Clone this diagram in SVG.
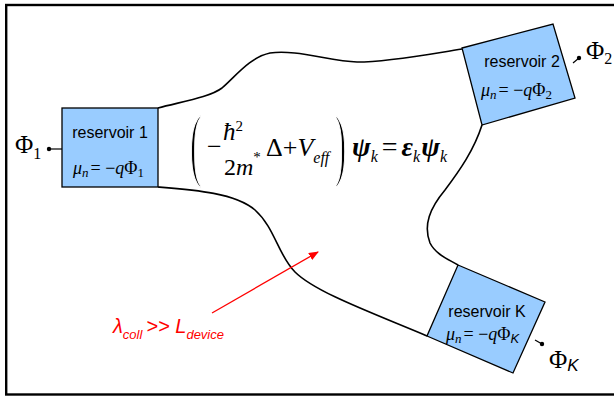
<svg xmlns="http://www.w3.org/2000/svg" width="614" height="397" viewBox="0 0 614 397">
<style>
.res{fill:#99CCFF;stroke:#000;stroke-width:1.3}
.wall{fill:none;stroke:#000;stroke-width:1.6}
.lbl{font-family:"Liberation Sans",Arial,sans-serif;font-size:16px;fill:#000}
.mu{font-family:"Liberation Serif","Times New Roman",serif;fill:#000}
.it{font-style:italic}
.phi{font-family:"Liberation Serif","Times New Roman",serif;fill:#000}
.eq{font-family:"Liberation Serif","Times New Roman",serif;fill:#000}
.paren{font-family:"Liberation Serif","Times New Roman",serif;fill:#000;stroke:#fff;stroke-width:2}
.red{font-family:"Liberation Sans",Arial,sans-serif;font-style:italic;fill:#FF0000}
.lead{stroke:#000;stroke-width:1.2}
</style>
<defs>
<marker id="ah" markerWidth="10" markerHeight="8" refX="9" refY="4" orient="auto" markerUnits="userSpaceOnUse">
<path d="M0,0 L10,4 L0,8 z" fill="#FF0000"/>
</marker>
</defs>
<rect x="6.2" y="5" width="640" height="389.5" fill="#fff" stroke="#000" stroke-width="2.4"/>

<g id="connectors">
<path class="wall" d="M158,108 C185,101 210,97 222,88 C235,77 250,57 270,53 C295,49 330,61 357,62 C390,62 430,54 462,49"/>
<path class="wall" d="M158,187 C195,190 235,193 255,210 C275,228 278,255 295,272 C315,292 370,312 427,336"/>
<path class="wall" d="M482,125 C474,150 460,170 445,190 C430,208 423,225 430,243 C436,255 450,260 458,265"/>
<line x1="212" y1="313" x2="318" y2="252" stroke="#FF0000" stroke-width="1.3" marker-end="url(#ah)"/>
</g>

<g id="reservoir1">
<rect class="res" x="62" y="108" width="96" height="79"/>
<text class="lbl" x="110" y="138" text-anchor="middle">reservoir 1</text>
<text class="mu" x="73" y="174" font-size="18"><tspan class="it">μ</tspan><tspan class="it" font-size="13" dy="3">n</tspan><tspan dy="-3" dx="2">= −</tspan><tspan class="it">q</tspan><tspan>Φ</tspan><tspan font-size="13" dy="3">1</tspan></text>
<line class="lead" x1="49" y1="149" x2="62" y2="149"/>
<circle cx="49" cy="149" r="2.2"/>
<text class="phi" x="15" y="153" font-size="25">Φ<tspan font-size="16" dy="6">1</tspan></text>
</g>

<g id="reservoir2">
<polygon class="res" points="462,48 553,24 575,98 482,125"/>
<text class="lbl" x="522" y="67" text-anchor="middle">reservoir 2</text>
<text class="mu" x="481" y="96" font-size="18"><tspan class="it">μ</tspan><tspan class="it" font-size="13" dy="3">n</tspan><tspan dy="-3" dx="2">= −</tspan><tspan class="it">q</tspan><tspan>Φ</tspan><tspan font-size="13" dy="3">2</tspan></text>
<line class="lead" x1="573" y1="63" x2="579" y2="58"/>
<circle cx="579" cy="58" r="2.2"/>
<text class="phi" x="586" y="59" font-size="25">Φ<tspan font-size="16" dy="5">2</tspan></text>
</g>

<g id="reservoirK">
<polygon class="res" points="458,265 545,302 513,373 427,336"/>
<text class="lbl" x="487" y="317" text-anchor="middle">reservoir K</text>
<text class="mu" x="446" y="340" font-size="18"><tspan class="it">μ</tspan><tspan class="it" font-size="13" dy="3">n</tspan><tspan dy="-3" dx="2">= −</tspan><tspan class="it">q</tspan><tspan>Φ</tspan><tspan class="it" font-family="Liberation Sans, Arial, sans-serif" font-size="13" dy="3">K</tspan></text>
<line class="lead" x1="535" y1="340" x2="542" y2="344"/>
<circle cx="542" cy="344" r="2.2"/>
<text class="phi" x="549" y="368" font-size="25">Φ<tspan font-family="Liberation Sans, Arial, sans-serif" font-style="italic" font-size="17" dy="3">K</tspan></text>
</g>

<g id="equation">
<text class="paren" font-size="80" transform="translate(190,171) scale(0.42,1)">(</text>
<text class="eq" x="207" y="155" font-size="26">−</text>
<text class="eq it" font-size="25" x="223" y="140">ħ<tspan font-size="15" dy="-9" font-style="normal">2</tspan></text>
<text class="eq" font-size="24" x="224" y="175">2<tspan class="it">m</tspan><tspan font-size="15" dy="-13">*</tspan></text>
<text class="eq" x="266" y="156" font-size="26">Δ+<tspan class="it">V</tspan><tspan class="it" font-size="16" dy="7">eff</tspan></text>
<text class="paren" font-size="80" transform="translate(335,171) scale(0.42,1)">)</text>
<text class="eq" x="352" y="156" font-size="28"><tspan class="it" font-weight="bold">ψ</tspan><tspan class="it" font-size="16" dy="6">k</tspan><tspan dy="-6" dx="4">=</tspan><tspan class="it" font-weight="bold" dx="4">ε</tspan><tspan class="it" font-size="16" dy="6">k</tspan><tspan class="it" font-weight="bold" dy="-6" dx="1">ψ</tspan><tspan class="it" font-size="16" dy="6">k</tspan></text>
</g>

<g id="collision-label">
<text class="red" x="113" y="333" font-size="20">λ<tspan font-size="13" dy="6">coll</tspan><tspan dy="-6" dx="4">&gt;&gt; L</tspan><tspan font-size="13" dy="6">device</tspan></text>
</g>
</svg>
